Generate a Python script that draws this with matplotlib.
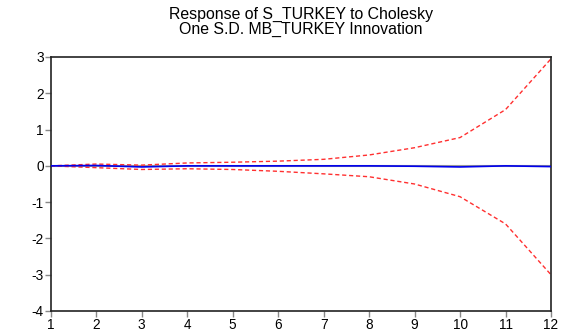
import matplotlib.pyplot as plt
import numpy as np

plt.rcParams['font.family'] = ['Liberation Sans', 'DejaVu Sans']
plt.rcParams['axes.unicode_minus'] = False

periods = np.arange(1, 13)
response = [0.0, 0.01, -0.03, 0.0, 0.0, 0.0, 0.0, 0.0, -0.01, -0.03, 0.0, -0.02]
upper = [0.0, 0.05, 0.02, 0.08, 0.10, 0.13, 0.18, 0.30, 0.50, 0.78, 1.55, 2.95]
lower = [0.0, -0.05, -0.10, -0.08, -0.10, -0.15, -0.22, -0.30, -0.50, -0.85, -1.60, -3.00]

fig = plt.figure(figsize=(5.77, 3.32), dpi=100)
ax = fig.add_axes([50.7/577, 1 - 311/332, (551 - 50.7)/577, (311 - 57)/332])

ax.axhline(0, color='#999999', linewidth=1.5, zorder=1)
ax.plot(periods, response, color='#0000ee', linewidth=1.2, zorder=3)
ax.plot(periods, upper, color='#ff3030', linestyle=(0, (3, 2)), linewidth=1, zorder=2)
ax.plot(periods, lower, color='#ff3030', linestyle=(0, (3, 2)), linewidth=1, zorder=2)

ax.set_xlim(1, 12)
ax.set_ylim(-4, 3)
ax.set_xticks(periods)
ax.set_yticks(range(-4, 4))
ax.tick_params(direction='out', length=4, width=1, labelsize=9.8, pad=1,
               color='#888888')
for s in ax.spines.values():
    s.set_color('#222222')
    s.set_linewidth(1.2)

fig.text(301/577, 1 - 22/332, 'Response of S_TURKEY to Cholesky\nOne S.D. MB_TURKEY Innovation',
         ha='center', va='center', fontsize=11.4, linespacing=0.95)

fig.savefig('out.png', dpi=100)
